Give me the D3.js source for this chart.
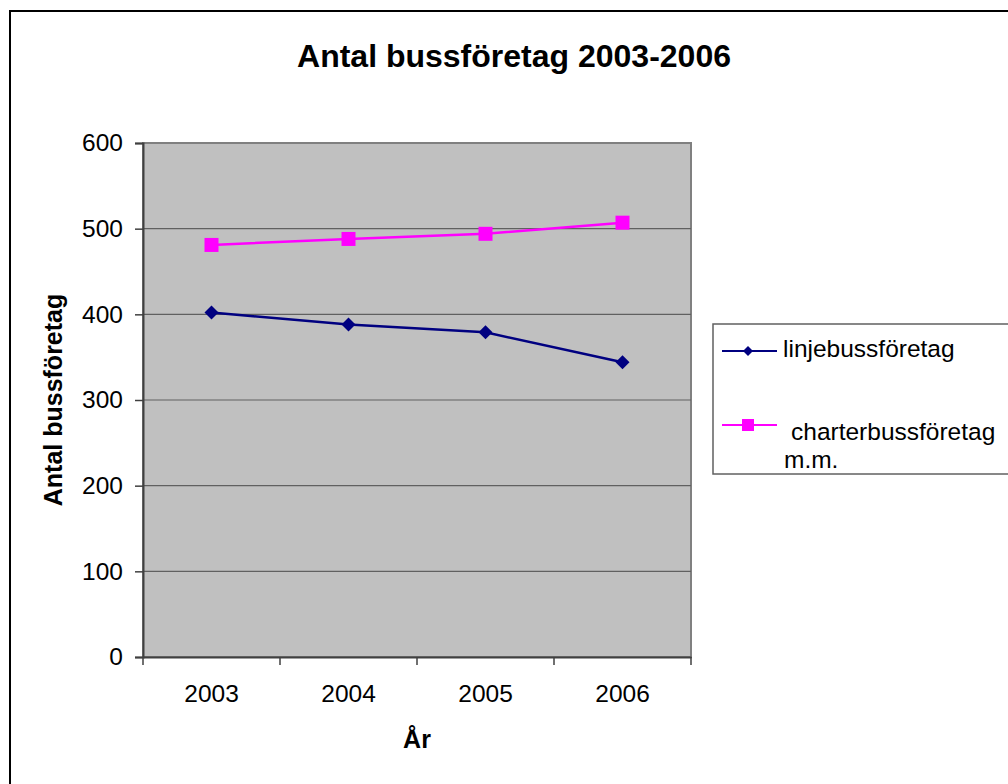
<!DOCTYPE html>
<html>
<head>
<meta charset="utf-8">
<script src="https://cdn.jsdelivr.net/npm/d3@7"></script>
<style>
  body { margin: 0; background: #fff; }
  text { font-family: "Liberation Sans", Arial, sans-serif; }
</style>
</head>
<body>
<script>
var years = ['2003', '2004', '2005', '2006']
var linjebuss = [402, 388, 379, 344]
var charterbuss = [481, 488, 494, 507]
var yTicks = [0, 100, 200, 300, 400, 500, 600]

var width = 1008, height = 784
var margin = { top: 143, left: 143, right: 317, bottom: 127 }
var plotW = width - margin.left - margin.right
var plotH = height - margin.top - margin.bottom
var fs = '24.5px'

// diamond marker, r = half diagonal
var diamond = r => 'M0,' + (-r) + 'L' + r + ',0L0,' + r + 'L' + (-r) + ',0Z'

var svg = d3.select('body').append('svg')
  .attr('width', width)
  .attr('height', height)

// outer frame, right and bottom run off the picture
svg.append('rect')
  .attr('x', 10).attr('y', 11)
  .attr('width', 1010).attr('height', 790)
  .attr('fill', '#fff')
  .attr('stroke', '#000')
  .attr('stroke-width', 2)

svg.append('text')
  .attr('x', 514).attr('y', 67)
  .attr('text-anchor', 'middle')
  .style('font-size', '32px')
  .style('font-weight', 'bold')
  .text('Antal bussföretag 2003-2006')

var g = svg.append('g').attr('transform', 'translate(' + margin.left + ',' + margin.top + ')')

var x = d3.scaleBand().domain(years).range([0, plotW])
var y = d3.scaleLinear().domain([0, 600]).range([plotH, 0])

g.append('rect')
  .attr('width', plotW).attr('height', plotH)
  .attr('fill', '#c0c0c0')
  .attr('stroke', '#808080')
  .attr('stroke-width', 2)

// gridlines
g.selectAll('.grid').data(yTicks.slice(1, -1)).enter().append('line')
  .attr('x1', 0).attr('x2', plotW)
  .attr('y1', d => y(d)).attr('y2', d => y(d))
  .attr('stroke', '#606060')
  .attr('stroke-width', 1.2)

var yAxis = g.append('g')
  .call(d3.axisLeft(y).tickValues(yTicks).tickSize(8).tickPadding(12))
yAxis.select('.domain').attr('stroke', '#404040').attr('stroke-width', 2)
yAxis.selectAll('.tick line').attr('stroke', '#404040').attr('stroke-width', 1.5)
yAxis.selectAll('text').style('font-size', fs).attr('fill', '#000')
  .style('font-family', '"Liberation Sans", Arial, sans-serif')

var xAxis = g.append('g')
  .attr('transform', 'translate(0,' + plotH + ')')
  .call(d3.axisBottom(x).tickSize(0).tickPadding(28))
xAxis.select('.domain').attr('stroke', '#404040').attr('stroke-width', 2)
xAxis.selectAll('text').style('font-size', fs).attr('fill', '#000')
  .style('font-family', '"Liberation Sans", Arial, sans-serif')

// category separator ticks
var edges = years.map(d => x(d)).concat([plotW])
xAxis.selectAll('.sep').data(edges).enter().append('line')
  .attr('x1', d => d).attr('x2', d => d)
  .attr('y1', 0).attr('y2', 8)
  .attr('stroke', '#404040').attr('stroke-width', 1.5)

svg.append('text')
  .attr('transform', 'translate(62,' + (margin.top + plotH / 2) + ') rotate(-90)')
  .attr('text-anchor', 'middle')
  .style('font-size', '25px')
  .style('font-weight', 'bold')
  .text('Antal bussföretag')

svg.append('text')
  .attr('x', margin.left + plotW / 2).attr('y', 748)
  .attr('text-anchor', 'middle')
  .style('font-size', '25px')
  .style('font-weight', 'bold')
  .text('År')

var cx = (d, i) => x(years[i]) + x.bandwidth() / 2
var line = d3.line().x((d, i) => cx(d, i)).y(d => y(d))

g.append('path').datum(charterbuss)
  .attr('d', line).attr('fill', 'none')
  .attr('stroke', '#ff00ff').attr('stroke-width', 2.5)
g.selectAll('.sq').data(charterbuss).enter().append('rect')
  .attr('x', (d, i) => cx(d, i) - 7).attr('y', d => y(d) - 7)
  .attr('width', 14).attr('height', 14)
  .attr('fill', '#ff00ff')

g.append('path').datum(linjebuss)
  .attr('d', line).attr('fill', 'none')
  .attr('stroke', '#000080').attr('stroke-width', 2.5)
g.selectAll('.dia').data(linjebuss).enter().append('path')
  .attr('d', diamond(7))
  .attr('transform', (d, i) => 'translate(' + cx(d, i) + ',' + y(d) + ')')
  .attr('fill', '#000080')

// legend
var lg = svg.append('g').attr('transform', 'translate(713,324)')
lg.append('rect')
  .attr('width', 320).attr('height', 150)
  .attr('fill', '#fff').attr('stroke', '#606060').attr('stroke-width', 1.5)

lg.append('line').attr('x1', 9).attr('x2', 64).attr('y1', 27).attr('y2', 27)
  .attr('stroke', '#000080').attr('stroke-width', 2)
lg.append('path')
  .attr('d', diamond(5))
  .attr('transform', 'translate(35,27)')
  .attr('fill', '#000080')
lg.append('text').attr('x', 70).attr('y', 33)
  .style('font-size', fs).text('linjebussföretag')

lg.append('line').attr('x1', 9).attr('x2', 64).attr('y1', 101).attr('y2', 101)
  .attr('stroke', '#ff00ff').attr('stroke-width', 2)
lg.append('rect').attr('x', 29).attr('y', 95).attr('width', 12).attr('height', 12)
  .attr('fill', '#ff00ff')
lg.append('text').attr('x', 78).attr('y', 116)
  .style('font-size', fs).text('charterbussföretag')
lg.append('text').attr('x', 71).attr('y', 144)
  .style('font-size', fs).text('m.m.')
</script>
</body>
</html>
